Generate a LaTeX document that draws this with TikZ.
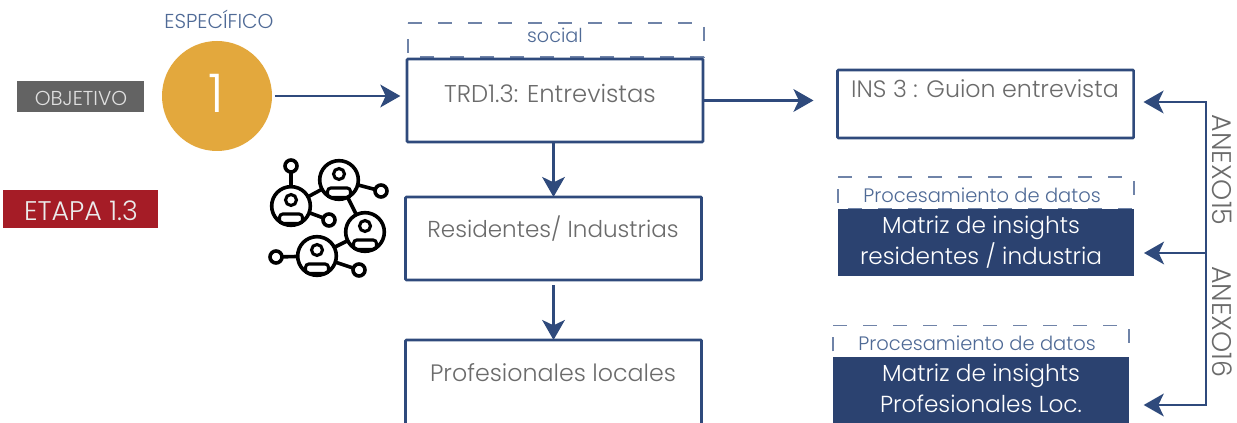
\documentclass[tikz,border=0pt]{standalone}
\usepackage{fontspec}
\setmainfont{Poppins Light}
\usetikzlibrary{arrows.meta,calc}
\definecolor{navy}{HTML}{2F4A7C}
\definecolor{navyfill}{HTML}{2B4270}
\definecolor{dashblue}{HTML}{6F83A8}
\definecolor{labelblue}{HTML}{4F6A96}
\definecolor{txtgrey}{HTML}{6B6B6B}
\definecolor{gold}{HTML}{E3A83D}
\definecolor{objgrey}{HTML}{636363}
\definecolor{etapared}{HTML}{A51C26}
\tikzset{
  boxnode/.style={draw=navy,line width=1.9pt,fill=white,rounded corners=0.6pt,inner sep=0pt,outer sep=0pt,minimum width=222pt},
  filled/.style={fill=navyfill,inner sep=0pt,outer sep=0pt,minimum width=222pt,text=white},
  dashframe/.style={inner sep=0pt,outer sep=0pt,minimum width=222pt,minimum height=24pt},
  dashline/.style={draw=dashblue,line width=0.9pt,dash pattern=on 10.5pt off 12pt},
  arr/.style={draw=navy,line width=2pt,-{Stealth[length=15pt,width=17pt,inset=4pt]}},
  lbl/.style={text=txtgrey,inner sep=0pt,font=\fontsize{17.8}{20}\selectfont},
  small/.style={text=labelblue,inner sep=0pt,font=\fontsize{14.6}{17}\selectfont},
  anexo/.style={text=txtgrey,inner sep=0pt,rotate=-90,font=\fontsize{20.2}{22}\selectfont},
  white lbl/.style={text=white,inner sep=0pt,font=\fontsize{17.4}{20}\selectfont},
  icon/.style={draw=black,line width=2.7pt},
  personring/.style={circle,icon,minimum size=29pt,inner sep=0pt,outer sep=0pt},
  dot/.style={circle,icon,minimum size=9pt,inner sep=0pt,outer sep=0pt}
}
\newcommand{\personicon}[3]{%
  \node[personring] (#1) at (#2,#3) {};
  \draw[icon,line width=2.3pt,rounded corners=2.5pt] ($(#2,#3)+(-11.5,8)$) rectangle ($(#2,#3)+(11.5,17.5)$);
  \draw[icon,line width=2.3pt] ($(#2,#3)+(0,-6)$) circle [radius=5.5];
}
\begin{document}
\begin{tikzpicture}[x=0.75pt,y=-0.75pt]
\useasboundingbox (0,0) rectangle (1237,423);
\clip (0,0) rectangle (1237,423);
\fill[white] (0,0) rectangle (1237,423);

% left column
\node[fill=objgrey,minimum width=95.25pt,minimum height=23.25pt,inner sep=0pt] (obj) at (80.5,96.5) {};
\node[text=white!88!black,inner sep=0pt,font=\fontsize{15.1}{18}\selectfont] (objt) at (81,98) {OBJETIVO};
\node[fill=etapared,minimum width=116.25pt,minimum height=28.5pt,inner sep=0pt] (eta) at (80.5,209) {};
\node[text=white!92!black,inner sep=0pt,font=\fontsize{20.2}{22}\selectfont] (etat) at (81,211) {ETAPA 1.3};
\node[text=labelblue,inner sep=0pt,font=\fontsize{15.1}{18}\selectfont] (esp) at (219,19) {ESPECÍFICO};
\node[circle,fill=gold,minimum size=82.5pt,inner sep=0pt,outer sep=0pt] (circ) at (217,96) {};
\node[text=white,inner sep=0pt,font=\fontsize{40}{44}\selectfont] (one) at (216,93) {1};

% dashed frames
\node[dashframe] (dsoc) at (556,40) [minimum height=25.5pt] {};
\draw[dashline] (dsoc.north west) -- (dsoc.north east) -- (dsoc.south east) -- (dsoc.south west) -- cycle;
\node[dashframe] (dm1) at (986,193) {};
\draw[dashline] (dm1.north west) -- (dm1.north east) -- (dm1.south east) -- (dm1.south west) -- cycle;
\node[dashframe] (dm2) at (981,341.5) {};
\draw[dashline] (dm2.north west) -- (dm2.north east) -- (dm2.south east) -- (dm2.south west) -- cycle;

% boxes
\node[boxnode,minimum height=62.25pt] (trd) at (555,100.5) {};
\node[boxnode,minimum height=62.25pt] (res) at (553.5,238.5) {};
\node[boxnode,minimum height=69pt] (pro) at (553.5,386) {};
\node[boxnode,minimum height=51pt] (ins) at (985.5,104) {};
\node[filled,minimum height=50.25pt] (m1) at (986,242.5) {};
\node[filled,minimum height=60pt] (m2) at (981,397) {};

% texts
\node[small,font=\fontsize{14.4}{17}\selectfont] (tsoc) at (555,35) {social};
\node[lbl,font=\fontsize{18.2}{20}\selectfont] (ttrd) at (550,93) {TRD1.3: Entrevistas};
\node[lbl,font=\fontsize{17.3}{20}\selectfont] (tres) at (553,229) {Residentes/ Industrias};
\node[lbl] (tpro) at (553,373) {Profesionales locales};
\node[lbl] (tins) at (985,89) {INS 3 : Guion entrevista};
\node[small] (tp1) at (982,195) {Procesamiento de datos};
\node[small] (tp2) at (977,343) {Procesamiento de datos};
\node[white lbl] (m1a) at (981,228) {Matriz de insights};
\node[white lbl] (m1b) at (981,256) {residentes / industria};
\node[white lbl] (m2a) at (981,376) {Matriz de insights};
\node[white lbl] (m2b) at (981,404) {Profesionales Loc.};
\node[anexo] (a15) at (1222,170) {ANEXO15};
\node[anexo] (a16) at (1222,322) {ANEXO16};

% connectors
\draw[arr,shorten <=2.2pt,shorten >=5pt] (circ.east) -- (circ.east -| trd.west);
\draw[arr,shorten >=18pt] (trd.east) -- (trd.east -| ins.west);
\draw[arr] (trd.south -| res.north) -- (res.north);
\draw[arr,shorten <=4pt] (res.south) -- (pro.north);
\coordinate (bustop) at (1206,102);
\coordinate (busmid) at (1206,253);
\coordinate (busbot) at (1206,405);
\draw[navy,line width=2pt,line cap=rect] (bustop) -- (busbot);
\draw[arr,shorten >=7.5pt] (bustop) -- (bustop -| ins.east);
\draw[arr,shorten >=7.5pt] (busmid) -- (busmid -| m1.east);
\draw[arr,shorten >=11pt] (busbot) -- (busbot -| m2.east);

% people icon
\personicon{pa}{291}{206}
\personicon{pb}{339}{180}
\personicon{pc}{365}{232}
\personicon{pd}{317}{256}
\node[dot] (s1) at (291,166) {};
\node[dot] (s2) at (381,191) {};
\node[dot] (s3) at (329,220) {};
\node[dot] (s4) at (276,257) {};
\node[dot] (s5) at (359,270) {};
\draw[icon] (pa) -- (pb);
\draw[icon] (pb) -- (pc);
\draw[icon] (pc) -- (pd);
\draw[icon] (pa) -- (s1);
\draw[icon] (pa) -- (s3);
\draw[icon] (pb) -- (s2);
\draw[icon] (pd) -- (s4);
\draw[icon] (pd) -- (s5);
\end{tikzpicture}
\end{document}
